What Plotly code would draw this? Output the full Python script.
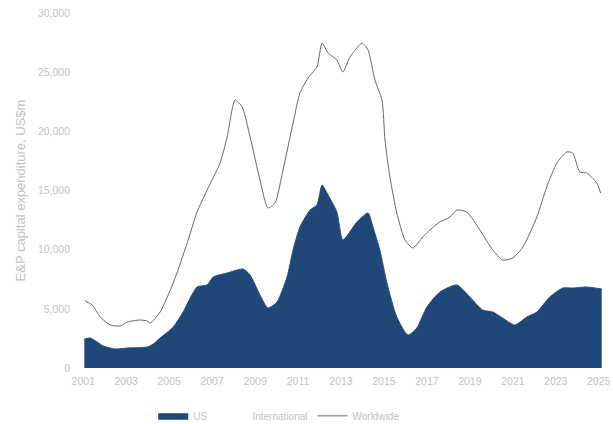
import plotly.graph_objects as go

# US capex (dark filled area)
us_years = [2001.05, 2001.33, 2001.65, 2001.93, 2002.49, 2003.05, 2003.98, 2004.26, 2004.58,
            2005.19, 2005.65, 2006.30, 2006.77, 2007.05, 2007.70, 2008.44, 2008.77, 2009.23,
            2009.60, 2010.02, 2010.49, 2010.77, 2011.09, 2011.56, 2011.88, 2012.12, 2012.35,
            2012.81, 2013.09, 2013.74, 2014.26, 2014.49, 2014.81, 2015.14, 2015.60, 2016.12,
            2016.53, 2017.00, 2017.60, 2018.40, 2019.00, 2019.60, 2020.07, 2020.53, 2021.09,
            2021.65, 2022.12, 2022.72, 2023.33, 2023.79, 2024.44, 2025.14]
us_values = [2450, 2535, 2200, 1860, 1605, 1690, 1775, 2030, 2535,
             3465, 4730, 6845, 7015, 7690, 8030, 8365, 7860, 6170,
             5070, 5575, 7690, 9970, 11915, 13350, 13775, 15465, 14790,
             13180, 10815, 12335, 13100, 11915, 9970, 7180, 4310, 2790,
             3380, 5155, 6420, 7015, 6000, 4900, 4730, 4225, 3635,
             4310, 4730, 6000, 6760, 6760, 6845, 6675]

# Total capex (line)
total_years = [2001.09, 2001.42, 2001.79, 2002.26, 2002.72, 2003.05, 2003.65, 2003.98, 2004.12,
               2004.58, 2005.19, 2005.84, 2006.30, 2006.77, 2007.37, 2007.70, 2008.07, 2008.40,
               2008.77, 2009.23, 2009.60, 2009.93, 2010.30, 2010.77, 2011.09, 2011.47, 2011.88,
               2012.12, 2012.40, 2012.81, 2013.09, 2013.42, 2013.98, 2014.26, 2014.58, 2014.91,
               2015.05, 2015.28, 2015.60, 2015.98, 2016.35, 2016.81, 2017.14, 2017.60, 2018.07,
               2018.40, 2018.86, 2019.47, 2020.07, 2020.53, 2021.00, 2021.47, 2022.12, 2022.58,
               2023.05, 2023.51, 2023.79, 2024.12, 2024.44, 2024.91, 2025.09]
total_values = [5660, 5325, 4310, 3635, 3550, 3885, 4055, 3970, 3800,
                4730, 7180, 10560, 13180, 15040, 17320, 19520, 22645, 22055,
                19520, 15885, 13520, 13940, 16730, 20700, 23240, 24505, 25435,
                27460, 26620, 26025, 25010, 26280, 27460, 26870, 24335, 22645,
                19265, 16140, 13100, 10815, 10140, 11070, 11660, 12335, 12760,
                13350, 13180, 11660, 9970, 9125, 9295, 10225, 12760, 15295,
                17320, 18250, 18170, 16560, 16480, 15630, 14790]

tick_years = [2001, 2003, 2005, 2007, 2009, 2011, 2013, 2015, 2017, 2019, 2021, 2023, 2025]
tick_labels = [str(y) for y in tick_years]
y_ticks = [0, 5000, 10000, 15000, 20000, 25000, 30000]
y_labels = ["0", "5,000", "10,000", "15,000", "20,000", "25,000", "30,000"]

label_color = "#c2c2c2"
fig = go.Figure()
fig.add_trace(go.Scatter(x=us_years, y=us_values, name="US", mode="lines",
                         fill="tozeroy", fillcolor="#1f4777",
                         line=dict(color="#1f4777", width=1, shape="spline", smoothing=0.6)))
fig.add_trace(go.Scatter(x=total_years, y=total_values, name="International", mode="lines",
                         fill="tonexty", fillcolor="rgba(255,255,255,1)",
                         line=dict(color="rgba(255,255,255,0)", width=0, shape="spline", smoothing=0.6)))
fig.add_trace(go.Scatter(x=total_years, y=total_values, name="Worldwide", mode="lines",
                         line=dict(color="#5f6a73", width=1, shape="spline", smoothing=0.6)))

fig.update_layout(
    width=613, height=424,
    margin=dict(l=80, r=10, t=13, b=56, autoexpand=False),
    paper_bgcolor="white", plot_bgcolor="white",
    font=dict(family="Arial, Liberation Sans, sans-serif", size=10, color=label_color),
    showlegend=True,
    legend=dict(orientation="h", x=0.14, xanchor="left", y=-0.094, yanchor="top",
                traceorder="normal",
                font=dict(size=10, color=label_color), bgcolor="rgba(0,0,0,0)"),
    xaxis=dict(range=[2000.85, 2025.2], tickmode="array", tickvals=tick_years,
               ticktext=tick_labels, showgrid=False, zeroline=False, showline=False,
               ticks="", ticklabelstandoff=5, tickfont=dict(size=10.5, color=label_color)),
    yaxis=dict(range=[0, 30000], tickmode="array", tickvals=y_ticks, ticktext=y_labels,
               showgrid=False, zeroline=False, showline=False, ticks="",
               ticklabelstandoff=9, tickfont=dict(size=10.5, color=label_color),
               title=dict(text="E&P capital expenditure, US$m", standoff=9,
                          font=dict(size=13, color=label_color))),
)

fig.write_html("out.html")
